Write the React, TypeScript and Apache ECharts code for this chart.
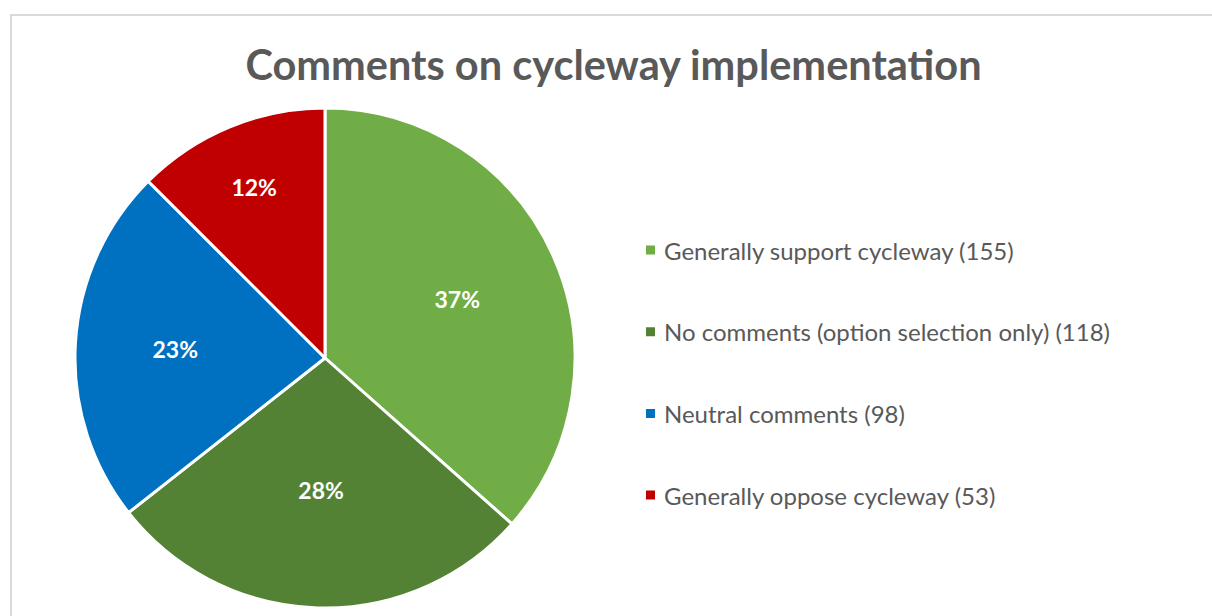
import React, { useEffect, useRef } from "react";
import * as echarts from "echarts";

const categories = [
  "Generally support cycleway (155)",
  "No comments (option selection only) (118)",
  "Neutral comments (98)",
  "Generally oppose cycleway (53)",
];
const values = [155, 118, 98, 53];
const colors = ["#70AD47", "#548235", "#0070C0", "#C00000"];
const titleText = "Comments on cycleway implementation";

// label radial distance as fraction of radius (style)
const labelRadiusFrac = [0.58, 0.53, 0.6, 0.74];

export default function App() {
  const ref = useRef<HTMLDivElement>(null);
  useEffect(() => {
    if (!ref.current) return;
    const chart = echarts.init(ref.current, undefined, { renderer: "svg" });
    const cx = 325;
    const cy = 358;
    const R = 250;
    const total = values.reduce((a, b) => a + b, 0);
    const mids: number[] = [];
    let acc = 0;
    values.forEach((v) => {
      mids.push(((acc + v / 2) / total) * Math.PI * 2);
      acc += v;
    });
    const font = "'Source Sans Pro', Lato, sans-serif";
    chart.setOption({
      animation: false,
      backgroundColor: "#ffffff",
      title: {
        text: titleText,
        left: 608.5,
        top: 38,
        textAlign: "center",
        textStyle: {
          fontFamily: font,
          fontSize: 41.5,
          fontWeight: "bold",
          color: "#595959",
        },
      },
      graphic: [
        {
          type: "rect",
          shape: { x: 11, y: 15, width: 1400, height: 800 },
          style: { fill: "none", stroke: "#d9d9d9", lineWidth: 2 },
          silent: true,
        },
      ],
      legend: {
        orient: "vertical",
        left: 644,
        top: 238,
        itemWidth: 11,
        itemHeight: 11,
        itemGap: 57.7,
        icon: "rect",
        padding: 0,
        textStyle: {
          fontFamily: font,
          fontSize: 24,
          color: "#595959",
          padding: [0, 0, 0, 3],
        },
        data: categories,
      },
      series: [
        {
          type: "pie",
          center: [cx, cy],
          radius: R,
          startAngle: 90,
          clockwise: true,
          percentPrecision: 0,
          avoidLabelOverlap: false,
          itemStyle: { borderColor: "#ffffff", borderWidth: 3 },
          label: {
            show: true,
            position: "inside",
            formatter: "{d}%",
            color: "#ffffff",
            fontFamily: font,
            fontWeight: "bold",
            fontSize: 23,
          },
          labelLayout: (p: any) => {
            const a = mids[p.dataIndex];
            const d = R * labelRadiusFrac[p.dataIndex];
            return { x: cx + d * Math.sin(a), y: cy - d * Math.cos(a), align: "center", verticalAlign: "middle" };
          },
          data: categories.map((name, i) => ({
            name,
            value: values[i],
            itemStyle: { color: colors[i] },
          })),
        },
      ],
    });
    return () => chart.dispose();
  }, []);
  return (
    <div
      ref={ref}
      style={{ position: "absolute", left: 0, top: 0, width: 1212, height: 616 }}
    />
  );
}
